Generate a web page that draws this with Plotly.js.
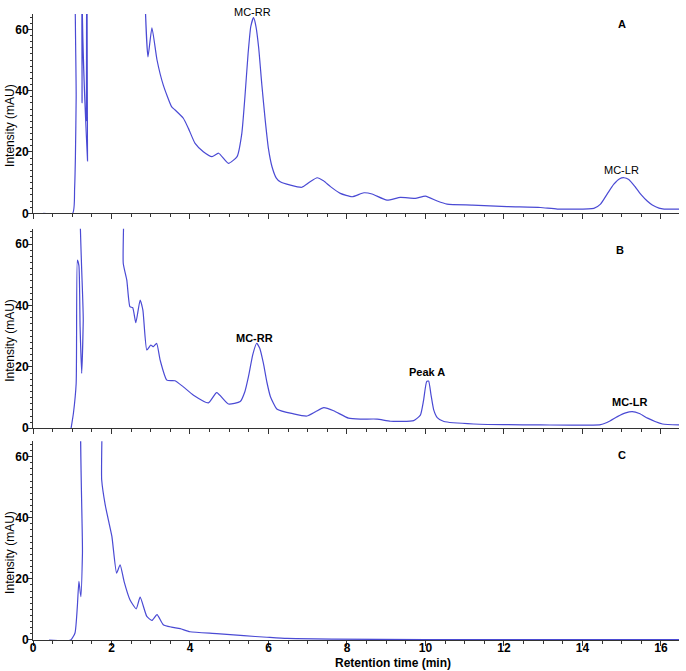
<!DOCTYPE html>
<html>
<head>
<meta charset="utf-8">
<script src="https://cdn.plot.ly/plotly-3.0.1.min.js"></script>
<style>html,body{margin:0;padding:0;background:#fff;}#chart{width:686px;height:671px;}</style>
</head>
<body>
<div id="chart"></div>
<script>
// Panel A (values of 100 are off-scale in the original)
const timeA = [0.26,1.01,1.06,1.08,1.10,1.11,1.19,1.25,1.29,1.34,1.36,1.37,1.39,1.41,2.84,2.86,2.93,3.03,3.16,3.32,3.53,3.62,3.83,3.96,4.13,4.34,4.56,4.73,4.98,5.2,5.32,5.40,5.48,5.55,5.62,5.68,5.75,5.83,5.92,6.0,6.09,6.2,6.3,6.56,6.85,7.05,7.24,7.4,7.58,7.83,8.13,8.43,8.64,9.02,9.36,9.74,10.0,10.3,10.55,11.2,12.08,12.93,13.36,14.29,14.46,14.64,14.8,14.95,15.06,15.18,15.35,15.5,15.65,15.78,15.95,16.08,16.46];
const intensityA = [0,0,8,18,38,100,100,36,100,100,30,100,17,100,100,68,51,60.5,50,41.8,34.8,33.7,31,27.7,22.8,20.1,18.5,19.6,16.3,18.5,26,38,52,61,63.8,61,54,42,30,21,15.2,11.5,10.3,9.2,8.5,10.2,11.6,10.6,8.7,6.5,5.4,6.7,6.3,4.3,5.2,4.9,5.6,4.0,3.0,2.7,2.2,1.9,1.4,1.6,3.0,6.5,9.5,11.3,11.6,11.0,8.5,6.0,4.0,2.7,1.7,1.4,1.4];

// Panel B
const timeB = [0.97,1.03,1.10,1.13,1.17,1.20,1.24,1.28,1.30,2.22,2.30,2.39,2.47,2.54,2.62,2.73,2.80,2.90,3.00,3.07,3.15,3.24,3.41,3.62,3.83,4.09,4.47,4.68,4.98,5.28,5.40,5.49,5.60,5.70,5.78,5.87,5.96,6.05,6.22,6.64,6.98,7.2,7.41,7.66,8.04,8.34,8.77,9.11,9.70,9.87,9.95,10.03,10.08,10.14,10.21,10.3,10.47,11.23,12.93,14.46,14.7,14.89,15.1,15.27,15.45,15.66,15.85,16.04,16.46];
const intensityB = [0,4.9,14.7,54.8,53,33,17.9,35,100,100,53.7,48.3,39.6,39.3,34.4,41.8,38.5,25.5,27.1,26.6,27.7,22.2,15.7,15.5,13.5,10.8,8.3,11.6,7.9,8.7,12,16.8,24,27.7,26,21.2,15,10.3,6.2,4.7,4.0,5.4,6.7,5.7,3.3,3.0,3.0,2.3,2.5,4.3,9,15.2,15.4,11,6.0,3.5,2.2,1.4,1.1,1.2,2.4,3.8,5.0,5.4,4.8,3.3,2.2,1.4,1.1];

// Panel C
const timeC = [0.41,0.96,1.07,1.13,1.17,1.22,1.26,1.30,1.69,1.75,1.84,1.92,2.01,2.13,2.22,2.32,2.47,2.63,2.73,2.90,3.03,3.16,3.32,3.53,3.75,4.0,4.68,5.37,5.96,6.47,7.66,10.0,13.0,16.46];
const intensityC = [0,0,2.3,11,19.2,14.2,28.4,100,100,52.4,44.2,39.3,33.9,21.9,24.6,19.2,13.2,10.2,14.0,7.7,6.4,8.3,5.0,4.2,3.7,2.7,2.1,1.4,0.9,0.5,0.3,0.1,0.1,0.1];

const panelLabels = ["A","B","C"];
const yTickVals = [0,20,40,60];

const lineColor = "#4a4ad4";
const FONT = "Liberation Sans, Arial, sans-serif";

function tr(x, y, xa, ya) {
  return {x: x, y: y, xaxis: xa, yaxis: ya, type: "scatter", mode: "lines",
    line: {color: lineColor, width: 1.2, shape: "spline", smoothing: 0.5}, hoverinfo: "skip", showlegend: false};
}

const data = [
  tr(timeA, intensityA, "x", "y"),
  tr(timeB, intensityB, "x2", "y2"),
  tr(timeC, intensityC, "x3", "y3")
];

function xax(showLabels) {
  return {range: [0, 16.46], showgrid: false, zeroline: false, showline: true,
    linecolor: "#333", linewidth: 1, ticks: "outside", ticklen: 5, tickcolor: "#333",
    dtick: 2, tick0: 0, showticklabels: showLabels, ticklabelstandoff: -8,
    tickfont: {family: FONT, size: 12, color: "#000", weight: "bold"},
    minor: {dtick: 0.5, ticks: "outside", ticklen: 3, tickcolor: "#333", showgrid: false}};
}
function yax(dom, anchor) {
  return {domain: dom, anchor: anchor, range: [0, 65], showgrid: false, zeroline: false,
    showline: true, linecolor: "#333", linewidth: 1, ticks: "outside", ticklen: 4,
    tickcolor: "#333", tickvals: yTickVals, ticktext: yTickVals.map(String), ticklabelstandoff: -3,
    tickfont: {family: FONT, size: 12, color: "#000", weight: "bold"},
    minor: {tickvals: Array.from({length: 33}, (_, i) => i * 2), ticks: "outside", ticklen: 2, tickcolor: "#333", showgrid: false}};
}

const ann = [];
function t(text, x, y, xref, yref, bold, extra) {
  return Object.assign({text: text, x: x, y: y, xref: xref, yref: yref, showarrow: false,
    font: {family: FONT, size: 11, color: "#000", weight: bold ? "bold" : "normal"}}, extra || {});
}
// Panel A labels
ann.push(t("MC-RR", 5.6, 64, "x", "y", false, {yanchor: "middle", yshift: 5}));
ann.push(t("MC-LR", 15.0, 14, "x", "y", false, {yanchor: "middle"}));
ann.push(t(panelLabels[0], 15.0, 61.7, "x", "y", true, {yanchor: "middle"}));
// Panel B labels
ann.push(t("MC-RR", 5.65, 29.3, "x2", "y2", true, {yanchor: "middle"}));
ann.push(t("Peak A", 10.05, 18.5, "x2", "y2", true, {yanchor: "middle"}));
ann.push(t("MC-LR", 15.2, 8.7, "x2", "y2", true, {yanchor: "middle"}));
ann.push(t(panelLabels[1], 14.95, 58.1, "x2", "y2", true, {yanchor: "middle"}));
// Panel C labels
ann.push(t(panelLabels[2], 15.0, 60.5, "x3", "y3", true, {yanchor: "middle"}));
// Y axis titles
["y","y2","y3"].forEach(function(yr){
  ann.push({text: "Intensity (mAU)", xref: "paper", yref: yr, x: (10-33)/646, y: 28.5,
    showarrow: false, textangle: -90, xanchor: "center", yanchor: "middle",
    font: {family: FONT, size: 12, color: "#000"}});
});
// X axis title
ann.push({text: "Retention time (min)", xref: "paper", yref: "paper", x: (393-33)/646, y: -0.0375,
  showarrow: false, xanchor: "center", yanchor: "middle",
  font: {family: FONT, size: 12, color: "#000", weight: "bold"}});

const layout = {
  width: 686, height: 671,
  margin: {l: 33, r: 7, t: 14, b: 31},
  paper_bgcolor: "#fff", plot_bgcolor: "#fff",
  showlegend: false,
  xaxis: Object.assign(xax(false), {anchor: "y"}),
  yaxis: yax([0.6816, 1], "x"),
  xaxis2: Object.assign(xax(false), {anchor: "y2"}),
  yaxis2: yax([0.3382, 0.6569], "x2"),
  xaxis3: Object.assign(xax(true), {anchor: "y3"}),
  yaxis3: yax([0, 0.3174], "x3"),
  annotations: ann
};

Plotly.newPlot("chart", data, layout, {displayModeBar: false, staticPlot: true});
</script>
</body>
</html>
